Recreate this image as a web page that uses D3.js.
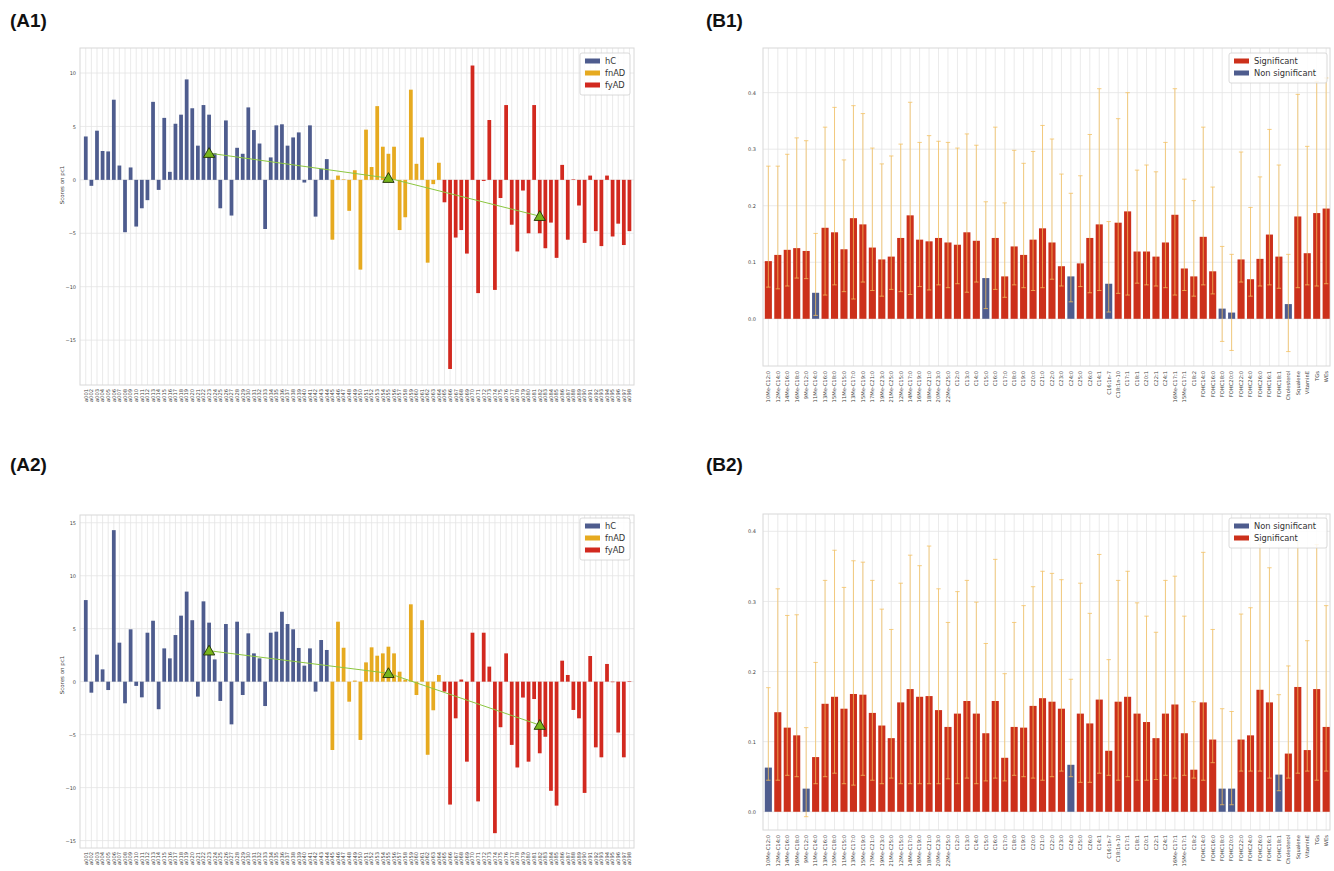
<!DOCTYPE html>
<html><head><meta charset="utf-8">
<script src="https://cdn.jsdelivr.net/npm/d3@7"></script>
<style>body{margin:0;background:#fff;} svg{display:block;}</style>
</head><body>
<svg id="chart" width="1334" height="871"></svg>
<script>
// ---------------- DATA ----------------
const groupNames = ["hC", "fnAD", "fyAD"];
const groupSizes = [44, 20, 34];
const sampleLabels = d3.range(1, 99).map(i => "a" + String(i).padStart(3, "0"));
const scoreTicksA1 = [-15, -10, -5, 0, 5, 10];
const scoreTicksA2 = [-15, -10, -5, 0, 5, 10, 15];

const a1Values = [
  4.06,-0.56,4.6,2.7,2.66,7.5,1.34,-4.9,1.16,-4.37,
  -2.66,-1.9,7.3,-0.94,5.8,0.75,5.25,6.1,9.4,6.7,
  3.2,7.0,6.1,2.5,-2.66,5.56,-3.34,3.0,2.44,6.78,
  4.66,3.4,-4.6,2.1,5.1,5.2,3.2,3.97,4.44,-0.25,
  5.1,-3.44,1.03,1.94,
  -5.6,0.4,0.05,-2.9,0.9,-8.4,4.7,1.2,6.9,3.1,
  2.44,3.1,-4.7,-3.5,8.44,1.5,3.97,-7.75,-0.4,1.6,
  -2.1,-17.7,-5.4,-4.7,-6.9,10.7,-10.6,-0.1,5.6,-10.3,
  -1.7,7.0,-4.2,-6.7,-1.0,-5.0,7.0,-5.0,-6.4,-4.0,
  -7.3,1.4,-5.6,0.05,-2.4,-5.9,0.4,-4.8,-6.2,0.4,
  -5.3,-4.1,-6.1,-4.8
];
const a2Values = [
  7.7,-1.04,2.55,1.16,-0.79,14.3,3.68,-2.04,4.94,-0.4,
  -1.48,4.62,5.75,-2.6,3.14,2.2,4.4,6.23,8.5,5.8,
  -1.41,7.58,5.57,2.1,-1.82,5.44,-4.03,5.66,-1.26,4.56,
  2.67,2.2,-2.3,4.62,4.72,6.6,5.44,4.94,3.18,1.51,
  3.14,-0.94,3.93,2.99,
  -6.45,5.66,3.2,-1.89,0.1,-5.5,1.82,3.24,2.45,2.67,
  3.3,2.67,0.94,0.2,7.3,-1.26,5.8,-6.9,-2.7,0.63,
  -0.94,-11.6,-3.46,0.2,-7.55,4.62,-11.3,4.62,1.42,-14.3,
  -4.3,2.67,-5.97,-8.1,-1.5,-7.55,-1.64,-6.76,-5.2,-10.3,
  -11.7,1.98,0.63,-2.67,-3.46,-10.5,2.42,-6.2,-7.14,1.67,
  -0.05,-4.8,-7.14,0.05
];
const centroidSamples = ["a023", "a055", "a082"];
const a1Centroids = [2.5, 0.16, -3.4];
const a2Centroids = [2.92, 0.79, -4.1];

const lipidLabels = [
  "10Me-C12:0","12Me-C14:0","14Me-C16:0","16Me-C18:0","9Me-C12:0",
  "11Me-C14:0","13Me-C16:0","15Me-C18:0","11Me-C15:0","13Me-C17:0",
  "15Me-C19:0","17Me-C21:0","19Me-C23:0","21Me-C25:0","12Me-C15:0",
  "14Me-C17:0","16Me-C19:0","18Me-C21:0","20Me-C23:0","22Me-C25:0",
  "C12:0","C13:0","C14:0","C15:0","C16:0","C17:0","C18:0","C19:0",
  "C20:0","C21:0","C22:0","C23:0","C24:0","C25:0","C26:0",
  "C14:1","C16:1n-7","C18:1n-10","C17:1","C18:1","C20:1","C22:1","C24:1",
  "16Me-C17:1","15Me-C17:1","C18:2",
  "FOHC14:0","FOHC16:0","FOHC18:0","FOHC20:0","FOHC22:0","FOHC24:0","FOHC26:0","FOHC16:1","FOHC18:1",
  "Cholesterol","Squalene","VitaminE","TGs","WEs"
];
const bTicks = [0.0, 0.1, 0.2, 0.3, 0.4];

const b1Values = [
  0.102,0.113,0.122,0.125,0.120,0.046,0.161,0.153,0.123,0.178,
  0.167,0.126,0.105,0.110,0.143,0.183,0.140,0.137,0.143,0.135,
  0.131,0.153,0.138,0.072,0.143,0.075,0.128,0.113,0.140,0.160,
  0.135,0.093,0.075,0.098,0.143,0.167,0.062,0.170,0.190,0.119,
  0.119,0.110,0.135,0.184,0.089,0.075,0.145,0.084,0.018,0.011,
  0.105,0.070,0.106,0.149,0.110,0.026,0.181,0.116,0.187,0.195
];
const b1Upper = [
  0.270,0.270,0.291,0.320,0.315,0.151,0.339,0.374,0.281,0.377,
  0.363,0.302,0.274,0.288,0.309,0.383,0.312,0.324,0.314,0.312,
  0.302,0.327,0.307,0.207,0.339,0.205,0.298,0.275,0.296,0.342,
  0.318,0.256,0.222,0.253,0.326,0.407,0.172,0.354,0.400,0.263,
  0.272,0.260,0.312,0.407,0.247,0.209,0.339,0.233,0.128,0.114,
  0.295,0.197,0.251,0.335,0.272,0.114,0.397,0.305,0.420,0.426
];
const b1Lower = [
  0.056,0.053,0.058,0.072,0.071,0.006,0.042,0.060,0.048,0.035,
  0.065,0.050,0.040,0.052,0.048,0.043,0.057,0.051,0.060,0.055,
  0.062,0.047,0.065,0.018,0.052,0.038,0.060,0.055,0.050,0.055,
  0.070,0.058,0.030,0.057,0.046,0.050,0.012,0.045,0.042,0.063,
  0.060,0.058,0.055,0.042,0.050,0.040,0.060,0.044,-0.040,-0.056,
  0.065,0.040,0.058,0.060,0.054,-0.058,0.055,0.060,0.058,0.062
];
const b1NonSignificant = ["11Me-C14:0","C15:0","C24:0","C16:1n-7","FOHC18:0","FOHC20:0","Cholesterol"];

const b2Values = [
  0.063,0.142,0.120,0.109,0.033,0.078,0.154,0.164,0.147,0.168,
  0.167,0.141,0.123,0.105,0.156,0.175,0.164,0.165,0.145,0.121,
  0.140,0.158,0.140,0.112,0.158,0.077,0.121,0.120,0.151,0.162,
  0.157,0.147,0.067,0.140,0.126,0.160,0.087,0.157,0.164,0.140,
  0.128,0.105,0.140,0.153,0.112,0.060,0.156,0.103,0.033,0.033,
  0.103,0.109,0.174,0.156,0.053,0.083,0.178,0.088,0.175,0.121
];
const b2Upper = [
  0.177,0.318,0.280,0.281,0.120,0.213,0.330,0.373,0.320,0.358,
  0.356,0.330,0.289,0.260,0.326,0.366,0.351,0.379,0.318,0.270,
  0.314,0.330,0.299,0.240,0.360,0.197,0.270,0.294,0.321,0.343,
  0.340,0.331,0.189,0.326,0.283,0.367,0.217,0.330,0.343,0.298,
  0.279,0.256,0.330,0.336,0.279,0.157,0.370,0.260,0.147,0.143,
  0.282,0.291,0.381,0.348,0.167,0.208,0.385,0.244,0.381,0.294
];
const b2Lower = [
  0.045,0.045,0.052,0.050,-0.007,0.040,0.050,0.055,0.040,0.038,
  0.052,0.045,0.040,0.048,0.040,0.040,0.040,0.040,0.040,0.047,
  0.040,0.048,0.040,0.044,0.048,0.044,0.052,0.050,0.048,0.045,
  0.050,0.058,0.050,0.042,0.042,0.055,0.052,0.045,0.050,0.045,
  0.045,0.046,0.052,0.048,0.052,0.048,0.045,0.070,0.010,0.010,
  0.058,0.058,0.058,0.048,0.030,0.048,0.055,0.058,0.045,0.058
];
const b2NonSignificant = ["10Me-C12:0","9Me-C12:0","C24:0","FOHC18:0","FOHC20:0","FOHC18:1"];

// ---------------- STYLE ----------------
const groupColors = {hC: "#4e5c8e", fnAD: "#e6aa20", fyAD: "#d2291f"};
const sigColor = "#cc301b", nonSigColor = "#4e5c8e", errColor = "#f3bf5c";
const gridColor = "#e4e4e4", frameColor = "#d8d8d8", tickText = "#444";
const svg = d3.select("#chart");

const sampleGroup = [];
groupNames.forEach((g, i) => { for (let k = 0; k < groupSizes[i]; k++) sampleGroup.push(g); });

function frame(g, f) {
  g.append("rect").attr("x", f.x0).attr("y", f.y0).attr("width", f.x1 - f.x0).attr("height", f.y1 - f.y0)
    .attr("fill", "none").attr("stroke", frameColor).attr("stroke-width", 1);
}

function legend(g, x, y, w, items) {
  const h = items.length * 12 + 6;
  g.append("rect").attr("x", x).attr("y", y).attr("width", w).attr("height", h)
    .attr("rx", 2).attr("fill", "#fff").attr("fill-opacity", 0.85).attr("stroke", "#d0d0d0").attr("stroke-width", 0.8);
  items.forEach((it, i) => {
    const cy = y + 8 + i * 12;
    g.append("rect").attr("x", x + 5).attr("y", cy - 2.5).attr("width", 15).attr("height", 5).attr("fill", it.color);
    g.append("text").attr("x", x + 25).attr("y", cy).attr("dy", "0.35em")
      .attr("font-family", "DejaVu Sans, sans-serif").attr("font-size", 8.3).attr("fill", "#333").text(it.label);
  });
}

function drawA(f, values, centroids, ticks, legendY, yLabelY) {
  const g = svg.append("g");
  const x = d3.scaleBand().domain(sampleLabels).range([f.bx0, f.bx1]).paddingInner(0.33).paddingOuter(0);
  const y = d3.scaleLinear().domain(f.dom).range([f.y1, f.y0]);
  const cx = d => x(d) + x.bandwidth() / 2;
  g.selectAll(".vg").data(sampleLabels).join("line")
    .attr("x1", d => cx(d)).attr("x2", d => cx(d)).attr("y1", f.y0).attr("y2", f.y1)
    .attr("stroke", gridColor).attr("stroke-width", 0.8);
  g.selectAll(".hg").data(ticks).join("line")
    .attr("x1", f.x0).attr("x2", f.x1).attr("y1", d => y(d)).attr("y2", d => y(d))
    .attr("stroke", gridColor).attr("stroke-width", 0.8);
  frame(g, f);
  g.selectAll(".bar").data(values).join("rect")
    .attr("x", (d, i) => x(sampleLabels[i])).attr("width", x.bandwidth())
    .attr("y", d => y(Math.max(0, d))).attr("height", d => Math.abs(y(d) - y(0)))
    .attr("fill", (d, i) => groupColors[sampleGroup[i]]);
  const pts = centroidSamples.map((s, i) => [cx(s), y(centroids[i])]);
  g.append("path").attr("d", d3.line()(pts)).attr("fill", "none").attr("stroke", "#8cc63f").attr("stroke-width", 1);
  g.selectAll(".tri").data(pts).join("path")
    .attr("transform", d => `translate(${d[0]},${d[1] + 1})`)
    .attr("d", d3.symbol(d3.symbolTriangle).size(55))
    .attr("fill", "#78b51c").attr("stroke", "#1f2f05").attr("stroke-width", 0.9);
  const ya = g.append("g").attr("transform", `translate(${f.x0},0)`)
    .call(d3.axisLeft(y).tickValues(ticks).tickSize(0).tickPadding(4).tickFormat(d3.format("d")));
  ya.select(".domain").remove();
  ya.selectAll("text").attr("font-family", "DejaVu Sans, sans-serif").attr("font-size", 5).attr("fill", tickText);
  const xa = g.append("g").attr("transform", `translate(0,${f.y1})`)
    .call(d3.axisBottom(x).tickSize(0).tickPadding(0));
  xa.select(".domain").remove();
  xa.selectAll("text").attr("font-family", "DejaVu Sans, sans-serif").attr("font-size", 5.2).attr("fill", tickText)
    .attr("text-anchor", "end").attr("transform", "rotate(-90)").attr("x", -4).attr("y", 0).attr("dy", "0.35em");
  g.append("text").attr("transform", `translate(${f.x0 - 16},${yLabelY}) rotate(-90)`)
    .attr("text-anchor", "middle").attr("font-family", "DejaVu Sans, sans-serif").attr("font-size", 5.5).attr("fill", "#444")
    .text("Scores on pc1");
  legend(g, 580, legendY, 50, groupNames.map(n => ({label: n, color: groupColors[n]})));
}

function drawB(f, values, upper, lower, nonSig, legendItems, legendY) {
  const g = svg.append("g");
  const x = d3.scaleBand().domain(lipidLabels).range([f.bx0, f.bx1]).paddingInner(0.25).paddingOuter(0);
  const y = d3.scaleLinear().domain(f.dom).range([f.y1, f.y0]);
  const cx = d => x(d) + x.bandwidth() / 2;
  g.selectAll(".vg").data(lipidLabels).join("line")
    .attr("x1", d => cx(d)).attr("x2", d => cx(d)).attr("y1", f.y0).attr("y2", f.y1)
    .attr("stroke", gridColor).attr("stroke-width", 0.8);
  g.selectAll(".hg").data(bTicks).join("line")
    .attr("x1", f.x0).attr("x2", f.x1).attr("y1", d => y(d)).attr("y2", d => y(d))
    .attr("stroke", gridColor).attr("stroke-width", 0.8);
  frame(g, f);
  g.selectAll(".bar").data(values).join("rect")
    .attr("x", (d, i) => x(lipidLabels[i])).attr("width", x.bandwidth())
    .attr("y", d => y(Math.max(0, d))).attr("height", d => Math.abs(y(d) - y(0)))
    .attr("fill", (d, i) => nonSig.includes(lipidLabels[i]) ? nonSigColor : sigColor);
  const eb = g.append("g").attr("stroke", errColor).attr("stroke-width", 0.9).attr("stroke-opacity", 0.85);
  lipidLabels.forEach((lab, i) => {
    const c = cx(lab);
    eb.append("line").attr("x1", c).attr("x2", c).attr("y1", y(lower[i])).attr("y2", y(upper[i]));
    eb.append("line").attr("x1", c - 2.2).attr("x2", c + 2.2).attr("y1", y(upper[i])).attr("y2", y(upper[i]));
    eb.append("line").attr("x1", c - 2.2).attr("x2", c + 2.2).attr("y1", y(lower[i])).attr("y2", y(lower[i]));
  });
  const ya = g.append("g").attr("transform", `translate(${f.x0},0)`)
    .call(d3.axisLeft(y).tickValues(bTicks).tickSize(0).tickPadding(7).tickFormat(d3.format(".1f")));
  ya.select(".domain").remove();
  ya.selectAll("text").attr("font-family", "DejaVu Sans, sans-serif").attr("font-size", 5).attr("fill", tickText);
  const xa = g.append("g").attr("transform", `translate(0,${f.y1})`)
    .call(d3.axisBottom(x).tickSize(0).tickPadding(0));
  xa.select(".domain").remove();
  xa.selectAll("text").attr("font-family", "DejaVu Sans, sans-serif").attr("font-size", 5.2).attr("fill", tickText)
    .attr("text-anchor", "end").attr("transform", "rotate(-90)").attr("x", -5).attr("y", 0).attr("dy", "0.35em");
  legend(g, 1229, legendY, 98, legendItems);
}

// ---------------- PANELS ----------------
drawA({x0: 80, x1: 634, y0: 48, y1: 385, bx0: 83.9, bx1: 631.3, dom: [-19.2, 12.34]},
      a1Values, a1Centroids, scoreTicksA1, 53, 185);
drawA({x0: 80, x1: 634, y0: 515, y1: 848, bx0: 83.9, bx1: 631.3, dom: [-15.7, 15.73]},
      a2Values, a2Centroids, scoreTicksA2, 518, 675);
drawB({x0: 763, x1: 1330, y0: 48, y1: 366, bx0: 764.8, bx1: 1329.7, dom: [-0.0835, 0.479]},
      b1Values, b1Upper, b1Lower, b1NonSignificant,
      [{label: "Significant", color: sigColor}, {label: "Non significant", color: nonSigColor}], 53);
drawB({x0: 763, x1: 1330, y0: 514, y1: 830, bx0: 764.8, bx1: 1329.7, dom: [-0.026, 0.4247]},
      b2Values, b2Upper, b2Lower, b2NonSignificant,
      [{label: "Non significant", color: nonSigColor}, {label: "Significant", color: sigColor}], 518);

[["(A1)", 10, 27], ["(B1)", 706, 27], ["(A2)", 10, 471], ["(B2)", 706, 471]].forEach(t => {
  svg.append("text").attr("x", t[1]).attr("y", t[2]).attr("font-family", "Liberation Sans, Arial, sans-serif")
    .attr("font-weight", "bold").attr("font-size", 19).attr("fill", "#111").text(t[0]);
});
</script>
</body></html>
